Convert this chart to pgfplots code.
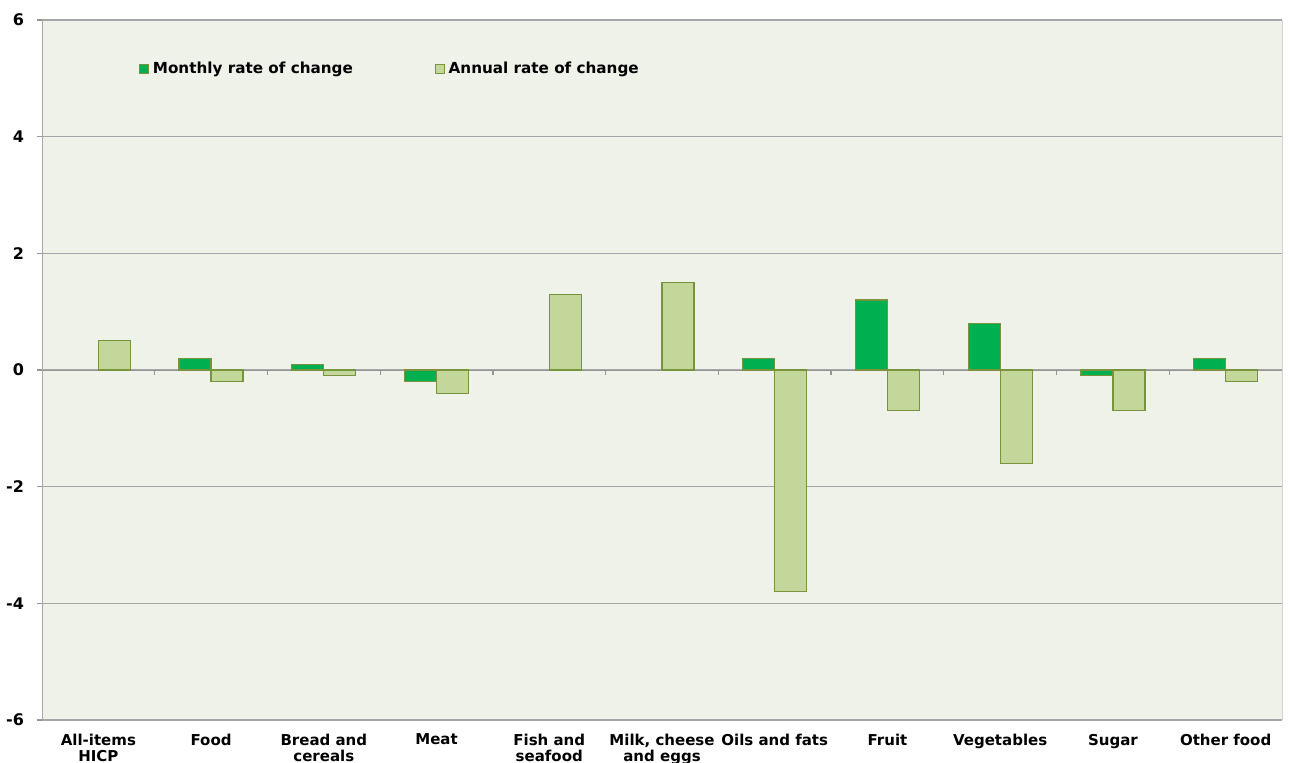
\documentclass[border=0pt]{standalone}
\usepackage{pgfplots}
\pgfplotsset{compat=1.18}
\usepackage{fontspec}
\setmainfont{DejaVu Sans}
\definecolor{monthly}{HTML}{00B050}
\definecolor{annual}{HTML}{C4D79B}
\definecolor{edgeol}{HTML}{77933C}
\definecolor{bgc}{HTML}{EFF2E9}
\definecolor{gridc}{HTML}{A6A6A6}
\begin{document}
\begin{tikzpicture}
\begin{axis}[
  at={(0,0)}, anchor=south west,
  scale only axis, width=620pt, height=350pt,
  xmin=-0.5, xmax=10.5, ymin=-6, ymax=6,
  enlargelimits=false,
  axis background/.style={fill=bgc},
  axis x line=middle, axis y line=left,
  axis line style={gridc, -},
  x axis line style={draw=gridc!90!black},
  ytick={-6,-4,-2,0,2,4,6},
  ymajorgrids, grid style={gridc, line width=0.6pt},
  tick align=outside, major tick length=2.5pt,
  tick style={gridc!90!black, line width=0.6pt},
  xtick={0.5,1.5,...,9.5}, xticklabels={},
  extra x ticks={0,1,...,10},
  extra x tick labels={{All-items\\HICP},Food,{Bread and\\cereals},Meat,{Fish and\\seafood},{Milk, cheese\\and eggs},Oils and fats,Fruit,Vegetables,Sugar,Other food},
  extra x tick style={major tick length=0pt, grid=none, xticklabel style={anchor=north, yshift=-178.5pt, align=center, font=\fontsize{7.5}{8.2}\selectfont\bfseries}},
  yticklabel style={font=\fontsize{8}{9}\selectfont\bfseries, xshift=-3pt},
  /pgf/number format/assume math mode=true,
  ybar, ybar=0pt, bar width=16pt,
  legend style={draw=none, fill=none, at={(0.078,0.93)}, anchor=west,
    font=\fontsize{7.6}{9}\selectfont\bfseries, legend columns=2,
    /tikz/every even column/.append style={column sep=39pt},
    inner sep=0pt},
  legend image code/.code={\draw[#1, line width=0.5pt] (0pt,-2.2pt) rectangle (4.4pt,2.2pt);},
  after end axis/.code={\draw[gridc!50] (rel axis cs:1,0) -- (rel axis cs:1,1);},
]
\addplot[fill=monthly, draw=edgeol, line width=0.6pt] coordinates {
(1,0.2) (2,0.1) (3,-0.2) (6,0.2) (7,1.2) (8,0.8) (9,-0.1) (10,0.2)};
\addplot[fill=annual, draw=edgeol, line width=0.6pt] coordinates {
(0,0.5) (1,-0.2) (2,-0.1) (3,-0.4) (4,1.3) (5,1.5) (6,-3.8) (7,-0.7) (8,-1.6) (9,-0.7) (10,-0.2)};
\legend{Monthly rate of change, Annual rate of change}
\end{axis}
\pgfresetboundingbox
\path (-21pt,-21.5pt) rectangle (624pt,360pt);
\end{tikzpicture}
\end{document}
